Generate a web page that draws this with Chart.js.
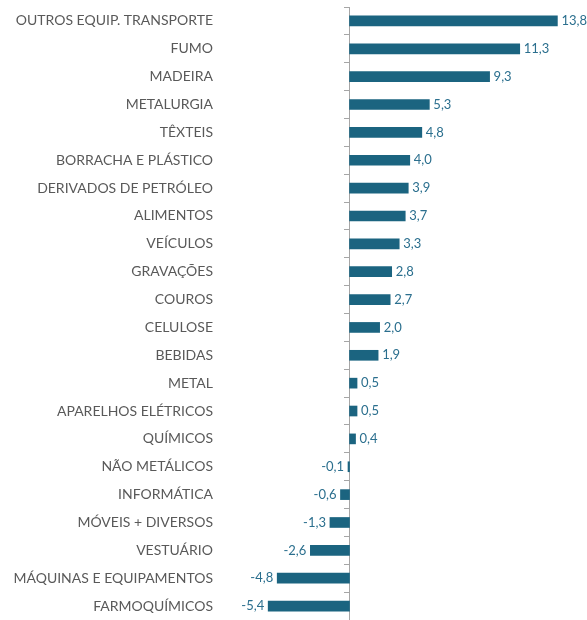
<!DOCTYPE html>
<html>
<head>
<meta charset="utf-8">
<script src="https://cdn.jsdelivr.net/npm/chart.js@4"></script>
<style>
  html, body { margin: 0; padding: 0; background: #fff; }
  #wrap { width: 587px; height: 620px; }
</style>
</head>
<body>
<div id="wrap"><canvas id="myChart"></canvas></div>
<script>
const categories = [
  "OUTROS EQUIP. TRANSPORTE", "FUMO", "MADEIRA", "METALURGIA", "TÊXTEIS",
  "BORRACHA E PLÁSTICO", "DERIVADOS DE PETRÓLEO", "ALIMENTOS", "VEÍCULOS",
  "GRAVAÇÕES", "COUROS", "CELULOSE", "BEBIDAS", "METAL", "APARELHOS ELÉTRICOS",
  "QUÍMICOS", "NÃO METÁLICOS", "INFORMÁTICA", "MÓVEIS + DIVERSOS", "VESTUÁRIO",
  "MÁQUINAS E EQUIPAMENTOS", "FARMOQUÍMICOS"
];
const values = [
  13.8, 11.3, 9.3, 5.3, 4.8, 4.0, 3.9, 3.7, 3.3, 2.8, 2.7, 2.0, 1.9, 0.5, 0.5,
  0.4, -0.1, -0.6, -1.3, -2.6, -4.8, -5.4
];

const barColor = "#1b6480";
const valueColor = "#2b6f8e";
const labelColor = "#595959";
const axisColor = "#a6a6a6";

// value labels next to the bar ends
const valueLabels = {
  id: "valueLabels",
  afterDatasetsDraw(chart) {
    const ctx = chart.ctx;
    const meta = chart.getDatasetMeta(0);
    ctx.save();
    ctx.font = "13px Lato";
    ctx.fillStyle = valueColor;
    ctx.textBaseline = "middle";
    meta.data.forEach((bar, i) => {
      const v = values[i];
      const txt = v.toFixed(1).replace(".", ",");
      if (v >= 0) {
        ctx.textAlign = "left";
        ctx.fillText(txt, bar.x + 4, bar.y);
      } else {
        ctx.textAlign = "right";
        ctx.fillText(txt, bar.x - 4, bar.y);
      }
    });
    ctx.restore();
  },
};

const ctx = document.getElementById("myChart").getContext("2d");
new Chart(ctx, {
  type: "bar",
  data: {
    labels: categories,
    datasets: [
      {
        data: values,
        backgroundColor: barColor,
        barThickness: 10,
      },
    ],
  },
  options: {
    indexAxis: "y",
    responsive: true,
    maintainAspectRatio: false,
    animation: false,
    layout: {
      padding: { top: 7, right: 4, bottom: -3, left: 0 },
    },
    plugins: {
      legend: { display: false },
      tooltip: { enabled: false },
    },
    scales: {
      x: {
        display: false,
        min: -8,
        max: 15.5,
      },
      y: {
        grid: { display: false, drawTicks: false },
        border: { display: false },
        ticks: {
          color: labelColor,
          font: { family: "Lato", size: 14 },
          padding: 16,
        },
        afterFit(scale) {
          scale.width = 229;
          scale.paddingTop = 0;
          scale.paddingBottom = 0;
        },
      },
      y2: {
        axis: "y",
        type: "category",
        labels: categories,
        position: { x: 0 },
        offset: true,
        ticks: { display: false },
        grid: {
          offset: true,
          drawOnChartArea: false,
          drawTicks: true,
          tickLength: 5,
          color: axisColor,
        },
        border: { display: true, color: axisColor, width: 1 },
      },
    },
  },
  plugins: [valueLabels],
});
</script>
</body>
</html>
